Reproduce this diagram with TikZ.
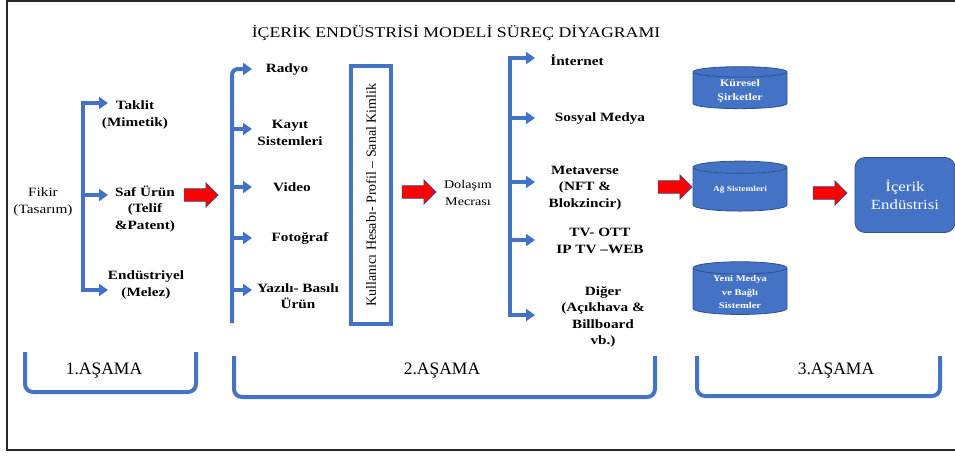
\documentclass[tikz,border=0pt]{standalone}
\usepackage{fontspec}
\setmainfont{Liberation Serif}[FakeStretch=1.2]
\newfontfamily\stagefont{Liberation Serif}
\usetikzlibrary{arrows.meta,shapes.geometric,shapes.arrows}
\definecolor{brkblue}{HTML}{4472C4}
\definecolor{edgeblue}{HTML}{2F528F}
\definecolor{arrred}{HTML}{FF0000}
\tikzset{
  frame/.style={draw=black!85, line width=2pt},
  brk/.style={draw=brkblue, line width=4pt},
  stage/.style={draw=brkblue, line width=4pt, rounded corners=8pt},
  title/.style={font=\fontsize{14.8}{17}\selectfont},
  plain/.style={align=center, inner sep=0pt, font=\fontsize{12.7}{16.5}\selectfont},
  item/.style={align=center, inner sep=0pt, font=\fontsize{12.7}{16.5}\selectfont\bfseries},
  stagelbl/.style={font=\stagefont\fontsize{17.5}{20}\selectfont},
  profil/.style={draw=brkblue, line width=3.5pt, rotate=90, minimum width=258pt,
    minimum height=40pt, font=\stagefont\fontsize{14}{16}\selectfont},
  redarr/.style={single arrow, fill=arrred, draw=edgeblue, line width=0.6pt,
    minimum height=34pt, single arrow head extend=6pt, inner xsep=0pt, inner ysep=6pt},
  store/.style={cylinder, shape border rotate=90, aspect=0.22, fill=brkblue,
    draw=edgeblue, line width=0.8pt, text=white, align=center, inner sep=1pt,
    minimum width=94pt, font=\fontsize{10}{13.5}\selectfont\bfseries},
  hub/.style={rectangle, rounded corners=10pt, fill=brkblue, draw=edgeblue,
    line width=0.8pt, text=white, align=center, minimum width=100pt,
    minimum height=75pt, font=\fontsize{14}{18}\selectfont}
}
\begin{document}
\begin{tikzpicture}[x=1pt,y=-1pt,>={Triangle[length=9pt,width=12pt]}]
  \useasboundingbox (0,0) rectangle (955,455);
  \draw[frame] (955,1) -- (7,1) -- (7,450) -- (955,450);
  \node[title] (title) at (456,33) {İÇERİK ENDÜSTRİSİ MODELİ SÜREÇ DİYAGRAMI};
  \draw
    (43,202) node[plain] (fikir){Fikir\\(Tasarım)}
    (135,115) node[item] (taklit){Taklit\\(Mimetik)}
    (145,209) node[item] (saf){Saf Ürün\\(Telif\\\&Patent)}
    (146,285) node[item] (endus){Endüstriyel\\(Melez)}
    (287,69) node[item] (radyo){Radyo}
    (290,133) node[item] (kayit){Kayıt\\Sistemleri}
    (292,187) node[item] (video){Video}
    (300,238) node[item] (foto){Fotoğraf}
    (298,296) node[item] (yazili){Yazılı- Basılı\\Ürün}
    (468,193) node[plain, font=\fontsize{11.8}{16.5}\selectfont] (dolasim){Dolaşım\\Mecrası}
    (577,60) node[item] (internet){İnternet}
    (600,118) node[item] (sosyal){Sosyal Medya}
    (585,188) node[item] (meta){Metaverse\\(NFT \&\\Blokzincir)}
    (600,241) node[item] (tv){TV- OTT\\IP TV –WEB}
    (603,317) node[item] (diger){Diğer\\(Açıkhava \&\\Billboard\\vb.)};
  \node[profil] (profil) at (371,195) {Kullanıcı Hesabı- Profil – Sanal Kimlik};
  \node[store, minimum height=42pt] (kuresel) at (740,91) {Küresel\\Şirketler};
  \node[store, minimum height=50pt, font=\fontsize{7.8}{10}\selectfont\bfseries] (ag) at (740,190) {Ağ Sistemleri};
  \node[store, minimum height=50pt, font=\fontsize{8.8}{13.5}\selectfont\bfseries] (yeni) at (740,292) {Yeni Medya\\ve Bağlı\\Sistemler};
  \node[hub] (icerik) at (905,195) {İçerik\\Endüstrisi};
  \node[redarr] (r1) at (198,195) {};
  \node[redarr] (r2) at (416,192) {};
  \node[redarr] (r3) at (672,187) {};
  \node[redarr] (r4) at (827,193) {};
  \coordinate (s1) at (83,195);
  \coordinate (k1) at (108,103);
  \coordinate (k2) at (108,195);
  \coordinate (k3) at (108,290);
  \coordinate (s2) at (232,323);
  \coordinate (m1) at (252,69);
  \coordinate (m2) at (252,129);
  \coordinate (m3) at (252,187);
  \coordinate (m4) at (252,238);
  \coordinate (m5) at (252,290);
  \coordinate (s3) at (510,182);
  \coordinate (d1) at (535,58);
  \coordinate (d2) at (535,118);
  \coordinate (d3) at (535,182);
  \coordinate (d4) at (535,240);
  \coordinate (d5) at (535,315);
  \begin{scope}[brk]
    \draw[<->] (k1) -| (s1) |- (k3);
    \draw[->] (s1) -- (k2);
    \draw[->, rounded corners=6pt] (s2) |- (m1);
    \draw[->] (s2 |- m2) -- (m2);
    \draw[->] (s2 |- m3) -- (m3);
    \draw[->] (s2 |- m4) -- (m4);
    \draw[->] (s2 |- m5) -- (m5);
    \draw[<->] (d1) -| (s3) |- (d5);
    \draw[->] (s3 |- d2) -- (d2);
    \draw[->] (s3) -- (d3);
    \draw[->] (s3 |- d4) -- (d4);
  \end{scope}
  \draw[stage] (25,352) -- (25,392) -- (196,392) -- (196,352);
  \draw[stage] (234,356) -- (234,397) -- (655,397) -- (655,356);
  \draw[stage] (697,356) -- (697,396) -- (940,396) -- (940,356);
  \node[stagelbl] (asama1) at (104,371) {1.AŞAMA};
  \node[stagelbl] (asama2) at (442,371) {2.AŞAMA};
  \node[stagelbl] (asama3) at (836,371) {3.AŞAMA};
\end{tikzpicture}
\end{document}
